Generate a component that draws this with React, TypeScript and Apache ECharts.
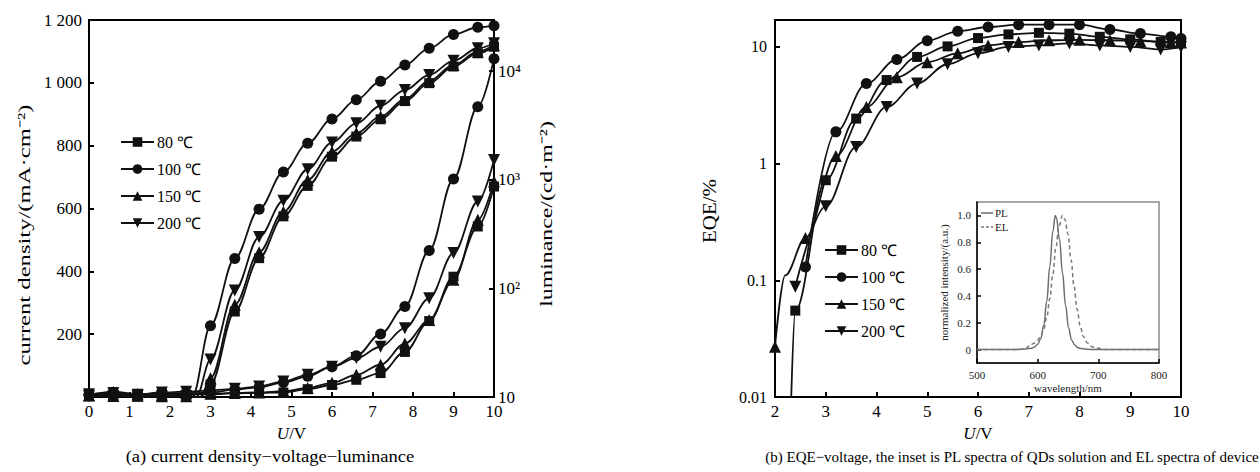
import React, { useEffect, useRef } from 'react';
import * as echarts from 'echarts';

const FONT = '"Liberation Serif", "Times New Roman", serif';

const temps = ['80 ℃', '100 ℃', '150 ℃', '200 ℃'];

// (a) current density & luminance vs voltage
const voltageJL = [0, 0.6, 1.2, 1.8, 2.4, 3.0, 3.6, 4.2, 4.8, 5.4, 6.0, 6.6, 7.2, 7.8, 8.4, 9.0, 9.6, 10];
const jOnset = [2.75, 2.55, 2.75, 2.65];
const j80 = [4, 3, 2, 1, 2, 40, 272, 442, 575, 672, 765, 829, 884, 942, 999, 1052, 1094, 1115];
const j100 = [6, 4, 3, 2, 3, 227, 441, 598, 716, 808, 885, 946, 1005, 1057, 1110, 1154, 1177, 1182];
const j150 = [5, 3, 4, 2, 2, 60, 294, 461, 590, 691, 781, 840, 893, 948, 1006, 1057, 1099, 1120];
const j200 = [3, 2, 3, 2, 3, 119, 339, 509, 625, 725, 810, 871, 927, 977, 1025, 1070, 1110, 1126];
const l80 = [10.3, 10.6, 10.4, 10.8, 10.5, 10.6, 10.8, 10.9, 11.0, 11.8, 12.9, 14.4, 16.6, 26, 50, 128, 371, 865];
const l100 = [10.5, 10.8, 10.6, 10.9, 10.7, 11, 11.7, 12.3, 13.6, 15.5, 19, 24, 38, 68, 223, 1016, 4700, 13000];
const l150 = [10.4, 11.2, 10.6, 10.5, 10.9, 10.7, 10.9, 11.0, 11.3, 12.1, 13.5, 16, 19.8, 31, 51, 120, 427, 961];
const l200 = [10.6, 10.9, 10.5, 11.0, 11.2, 11.5, 11.9, 12.5, 13.9, 16, 19, 22.8, 29, 43, 81, 211, 630, 1520];

// (b) EQE vs voltage
const v80 = [2.32, 2.4, 3.0, 3.6, 4.2, 4.8, 5.4, 6.0, 6.6, 7.2, 7.8, 8.4, 9.0, 9.6, 10];
const e80 = [0.01, 0.055, 0.72, 2.43, 5.2, 8.2, 10.1, 11.9, 12.8, 13.2, 13.0, 12.2, 11.6, 11.0, 10.9];
const v100 = [2.6, 3.2, 3.8, 4.4, 5.0, 5.6, 6.2, 6.8, 7.4, 8.0, 8.6, 9.2, 9.8, 10];
const e100 = [0.13, 1.87, 4.85, 7.8, 11.3, 13.6, 14.8, 15.5, 15.5, 15.5, 14.1, 13.0, 12.2, 11.8];
const v150 = [2.0, 2.2, 2.6, 3.2, 3.8, 4.4, 5.0, 5.6, 6.2, 6.8, 7.4, 8.0, 8.6, 9.2, 9.8, 10];
const e150 = [0.027, 0.11, 0.23, 1.16, 3.06, 5.5, 7.4, 8.8, 10.3, 11.0, 11.4, 11.5, 11.4, 11.2, 11.0, 10.9];
const v200 = [2.4, 3.0, 3.6, 4.2, 4.8, 5.4, 6.0, 6.6, 7.2, 7.8, 8.4, 9.0, 9.6, 10];
const e200 = [0.088, 0.43, 1.39, 3.06, 4.85, 7.1, 8.8, 10, 10.3, 10.7, 10.3, 10, 9.5, 10];
const eqeNoMarker = [[0], [], [1], []];

// inset spectra
const wlPL = [500, 560, 580, 590, 595, 600, 605, 610, 615, 620, 625, 629, 631, 636, 641, 646, 651, 656, 661, 666, 671, 680, 700, 800];
const pl = [0, 0, 0.005, 0.01, 0.02, 0.04, 0.08, 0.18, 0.36, 0.62, 0.88, 1.0, 0.98, 0.82, 0.57, 0.33, 0.16, 0.07, 0.035, 0.015, 0.008, 0.003, 0, 0];
const wlEL = [500, 570, 580, 590, 595, 600, 605, 610, 615, 620, 625, 630, 635, 641, 645, 650, 655, 660, 665, 670, 675, 682, 690, 700, 710, 800];
const el = [0, 0, 0.01, 0.04, 0.05, 0.07, 0.1, 0.15, 0.24, 0.38, 0.56, 0.76, 0.92, 1.0, 0.97, 0.86, 0.67, 0.47, 0.3, 0.18, 0.1, 0.05, 0.02, 0.01, 0, 0];

const xTicksA = [0, 10];
const jTicks = [0, 1200, 200];
const lumRange = [10, 29500];
const eqeRange = [0.01, 17];
const insetY = [0, 0.2, 0.4, 0.6, 0.8, 1.0];

const symbols = ['rect', 'circle', 'triangle', 'triangle'];
const rotates = [0, 0, 0, 180];
const sizes = [10, 11, 12, 12];

const supMap: Record<number, string> = { 1: '10', 2: '10²', 3: '10³', 4: '10⁴' };
const eqeMap: Record<number, string> = { [-2]: '0.01', [-1]: '0.1', 0: '1', 1: '10' };

export default function App() {
  const ref = useRef<HTMLDivElement>(null);
  useEffect(() => {
    if (!ref.current) return;
    const chart = echarts.init(ref.current, undefined, { renderer: 'svg' });
    const black = '#111';
    const lineBase = (k: number) => ({
      name: temps[k],
      type: 'line',
      smooth: 0.35,
      smoothMonotone: 'x',
      symbol: symbols[k],
      symbolRotate: rotates[k],
      symbolSize: sizes[k],
      lineStyle: { color: black, width: 1.8 },
      itemStyle: { color: black },
      z: 3,
    });
    const jArr = [j80, j100, j150, j200];
    const lArr = [l80, l100, l150, l200];
    const vE = [v80, v100, v150, v200];
    const eArr = [e80, e100, e150, e200];
    const series: any[] = [];
    for (let k = 0; k < 4; k++) {
      const d: any[] = voltageJL.map((v, i) => [v, jArr[k][i]]);
      d.splice(5, 0, { value: [jOnset[k], 0], symbol: 'none' });
      series.push({ ...lineBase(k), xAxisIndex: 0, yAxisIndex: 0, data: d });
    }
    for (let k = 0; k < 4; k++) {
      series.push({ ...lineBase(k), xAxisIndex: 0, yAxisIndex: 1, data: voltageJL.map((v, i) => [v, lArr[k][i]]) });
    }
    for (let k = 0; k < 4; k++) {
      const d = vE[k].map((v, i) =>
        eqeNoMarker[k].includes(i) ? { value: [v, eArr[k][i]], symbol: 'none' } : [v, eArr[k][i]]
      );
      series.push({ ...lineBase(k), xAxisIndex: 1, yAxisIndex: 2, data: d });
    }
    series.push({
      name: 'PL', type: 'line', xAxisIndex: 2, yAxisIndex: 3, symbol: 'none', smooth: 0.4, smoothMonotone: 'x',
      lineStyle: { color: '#6e6e6e', width: 1.5 }, itemStyle: { color: '#6e6e6e' },
      data: wlPL.map((w, i) => [w, pl[i]]),
    });
    series.push({
      name: 'EL', type: 'line', xAxisIndex: 2, yAxisIndex: 3, symbol: 'none', smooth: 0.4, smoothMonotone: 'x',
      lineStyle: { color: '#7a7a7a', width: 1.5, type: [4, 3] }, itemStyle: { color: '#7a7a7a' },
      data: wlEL.map((w, i) => [w, el[i]]),
    });

    const axisLine = { show: true, onZero: false, lineStyle: { color: '#000', width: 2 } };
    const tick = { show: true, inside: true, length: 5, lineStyle: { color: '#000', width: 2 } };
    const lbl = (fs: number) => ({ fontSize: fs, color: '#000', fontFamily: FONT });
    const legendBase = {
      orient: 'vertical', itemWidth: 33, itemHeight: 12, itemGap: 11, selectedMode: false, padding: 0,
      textStyle: { fontSize: 16, color: '#000', fontFamily: FONT, padding: [0, 0, 0, -2] },
      data: temps,
    };
    const vText = (text: string, x: number, y: number, fs: number, sx: number) => ({
      type: 'text', x, y, rotation: Math.PI / 2, scaleX: sx, scaleY: 1,
      style: { text, fontSize: fs, fontFamily: FONT, fill: '#000', align: 'center', verticalAlign: 'middle' },
    });

    chart.setOption({
      animation: false,
      backgroundColor: '#fff',
      textStyle: { fontFamily: FONT },
      grid: [
        { left: 89, top: 20, width: 405, height: 377, show: true, borderColor: '#000', borderWidth: 2, backgroundColor: 'transparent' },
        { left: 775, top: 20, width: 406, height: 377, show: true, borderColor: '#000', borderWidth: 2, backgroundColor: 'transparent' },
        { left: 977, top: 202, width: 182, height: 161, show: true, borderColor: '#8a8a8a', borderWidth: 1.5, backgroundColor: '#fff' },
      ],
      xAxis: [
        {
          gridIndex: 0, type: 'value', min: xTicksA[0], max: xTicksA[1], interval: 1,
          axisLine, axisTick: tick, splitLine: { show: false },
          axisLabel: { ...lbl(17), margin: 6 },
          name: '{i|U}/V', nameLocation: 'middle', nameGap: 25,
          nameTextStyle: { fontSize: 17, color: '#000', fontFamily: FONT, rich: { i: { fontStyle: 'italic', fontSize: 17, fontFamily: FONT, color: '#000' } } },
        },
        {
          gridIndex: 1, type: 'value', min: 2, max: 10, interval: 1,
          axisLine, axisTick: tick, splitLine: { show: false },
          axisLabel: { ...lbl(17), margin: 6 },
          name: '{i|U}/V', nameLocation: 'middle', nameGap: 25,
          nameTextStyle: { fontSize: 17, color: '#000', fontFamily: FONT, rich: { i: { fontStyle: 'italic', fontSize: 17, fontFamily: FONT, color: '#000' } } },
        },
        {
          gridIndex: 2, type: 'value', min: 500, max: 800, interval: 100,
          axisLine: { show: true, onZero: false, lineStyle: { color: '#000', width: 1.5 } },
          axisTick: { show: true, inside: true, length: 4, lineStyle: { color: '#000', width: 1.5 } },
          splitLine: { show: false },
          axisLabel: { ...lbl(11), color: '#222', margin: 6 },
          name: 'wavelength/nm', nameLocation: 'middle', nameGap: 19,
          nameTextStyle: { fontSize: 11, color: '#222', fontFamily: FONT },
        },
      ],
      yAxis: [
        {
          gridIndex: 0, type: 'value', min: jTicks[0], max: jTicks[1], interval: jTicks[2], position: 'left',
          axisLine, axisTick: tick, splitLine: { show: false },
          axisLabel: {
            ...lbl(17), margin: 7,
            formatter: (v: number) => (v === 0 ? '' : v >= 1000 ? `${Math.floor(v / 1000)} ${String(v % 1000).padStart(3, '0')}` : String(v)),
          },
        },
        {
          gridIndex: 0, type: 'log', logBase: 10, min: lumRange[0], max: lumRange[1], position: 'right',
          axisLine, axisTick: tick, splitLine: { show: false }, minorTick: { show: false },
          axisLabel: {
            ...lbl(17), margin: 4, showMaxLabel: false,
            formatter: (v: number) => {
              const lg = Math.log10(v);
              return Math.abs(lg - Math.round(lg)) < 1e-6 ? supMap[Math.round(lg)] || '' : '';
            },
          },
        },
        {
          gridIndex: 1, type: 'log', logBase: 10, min: eqeRange[0], max: eqeRange[1],
          axisLine, axisTick: tick, splitLine: { show: false },
          axisLabel: {
            ...lbl(16), margin: 8, showMaxLabel: false,
            formatter: (v: number) => {
              const lg = Math.log10(v);
              return Math.abs(lg - Math.round(lg)) < 1e-6 ? eqeMap[Math.round(lg)] ?? '' : '';
            },
          },
        },
        {
          gridIndex: 2, type: 'value', min: -0.1, max: 1.1,
          axisLine: { show: true, onZero: false, lineStyle: { color: '#000', width: 1.5 } },
          axisTick: { show: true, inside: true, length: 4, customValues: insetY, lineStyle: { color: '#000', width: 1.5 } },
          splitLine: { show: false },
          axisLabel: { ...lbl(11), color: '#222', margin: 6, customValues: insetY, formatter: (v: number) => (Math.abs(v) < 1e-9 ? '0' : v.toFixed(1)) },
          name: 'normalized intensity/(a.u.)', nameLocation: 'middle', nameGap: 28,
          nameTextStyle: { fontSize: 11, color: '#222', fontFamily: FONT },
        },
      ],
      legend: [
        { ...legendBase, left: 120, top: 134 },
        { ...legendBase, left: 824, top: 242 },
      ],
      graphic: [
        vText('current density/(mA·cm⁻²)', 24, 235, 17, 1.45),
        vText('luminance/(cd·m⁻²)', 546, 214, 17, 1.4),
        vText('EQE/%', 710, 211, 18, 1.16),
        { type: 'line', shape: { x1: 981, y1: 213, x2: 993, y2: 213 }, style: { stroke: '#6e6e6e', lineWidth: 1.5 } },
        { type: 'line', shape: { x1: 981, y1: 227, x2: 993, y2: 227 }, style: { stroke: '#7a7a7a', lineWidth: 1.5, lineDash: [3, 2] } },
        { type: 'text', x: 995, y: 213, style: { text: 'PL', fontSize: 11, fontFamily: FONT, fill: '#222', align: 'left', verticalAlign: 'middle' } },
        { type: 'text', x: 995, y: 227, style: { text: 'EL', fontSize: 11, fontFamily: FONT, fill: '#222', align: 'left', verticalAlign: 'middle' } },
        { type: 'text', x: 270, y: 457, scaleX: 1.16, style: { text: '(a) current density−voltage−luminance', fontSize: 16, fontFamily: FONT, fill: '#000', align: 'center', verticalAlign: 'middle' } },
        { type: 'text', x: 1012, y: 457, style: { text: '(b) EQE−voltage, the inset is PL spectra of QDs solution and EL spectra of device', fontSize: 15, fontFamily: FONT, fill: '#000', align: 'center', verticalAlign: 'middle' } },
      ],
      series,
    });
    return () => chart.dispose();
  }, []);
  return <div ref={ref} style={{ position: 'fixed', left: 0, top: 0, width: 1260, height: 472, background: '#fff' }} />;
}
